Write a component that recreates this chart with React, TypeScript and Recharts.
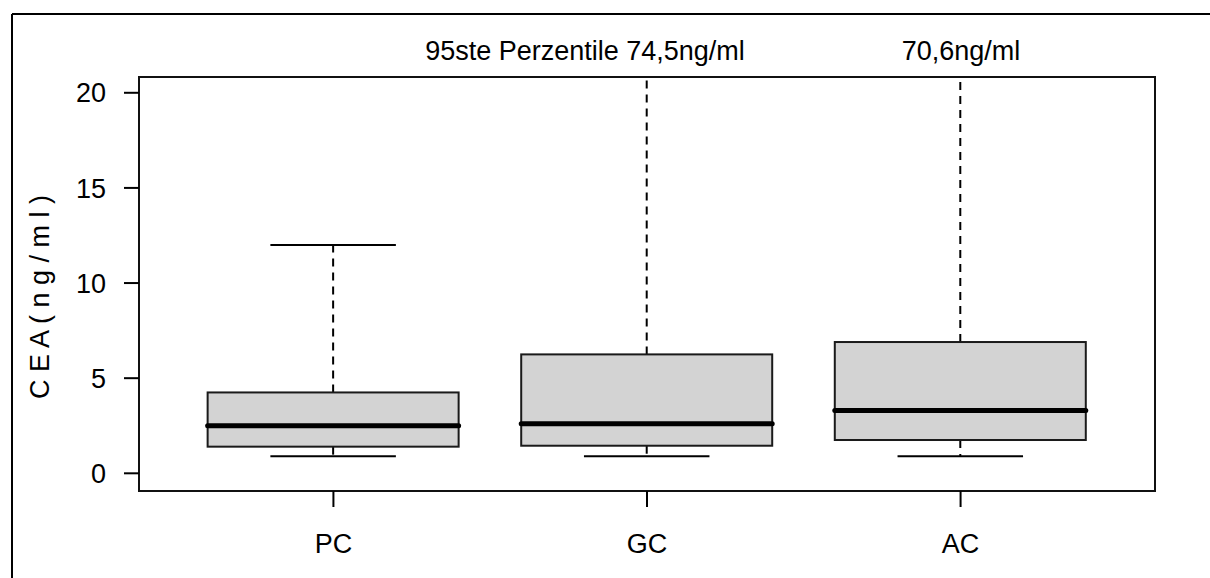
import React from 'react';
import { ComposedChart, Bar, XAxis, YAxis, ReferenceArea } from 'recharts';

const categories = ['PC', 'GC', 'AC'];
const lowerWhisker = [0.9, 0.9, 0.9];
const lowerQuartile = [1.4, 1.45, 1.75];
const medians = [2.5, 2.6, 3.3];
const upperQuartile = [4.25, 6.25, 6.9];
const upperWhisker = [12.0, 74.5, 70.6];
const yTicks = [0, 5, 10, 15, 20];
const topNotes = ['95ste Perzentile 74,5ng/ml', '70,6ng/ml'];

const xDomain: [number, number] = [0.38, 3.62];
const yDomain: [number, number] = [-0.93, 20.83];
const font = '"Liberation Sans", Arial, sans-serif';

const rows = categories.map((name, i) => ({
  pos: i + 1,
  name,
  box: [lowerQuartile[i], upperQuartile[i]],
  low: lowerWhisker[i],
  q1: lowerQuartile[i],
  med: medians[i],
  q3: upperQuartile[i],
  high: upperWhisker[i],
}));

const BoxShape = (props: any) => {
  const { x, y, width, height, payload } = props;
  const topY = Math.min(y, y + height);
  const h = Math.abs(height);
  const perUnit = h / (payload.q3 - payload.q1);
  const py = (v: number) => topY + (payload.q3 - v) * perUnit;
  const cx = x + width / 2;
  const half = width / 4;
  const plotTop = py(yDomain[1]);
  const hiY = Math.max(py(payload.high), plotTop);
  const showHiStaple = payload.high <= yDomain[1];

  return (
    <g>
      {/* whiskers */}
      <line x1={cx} x2={cx} y1={py(payload.q3)} y2={hiY} stroke="#000" strokeWidth={2} strokeDasharray="8 6" />
      <line x1={cx} x2={cx} y1={py(payload.q1)} y2={py(payload.low)} stroke="#000" strokeWidth={2} strokeDasharray="8 6" />
      {showHiStaple && (
        <line x1={cx - half} x2={cx + half} y1={hiY} y2={hiY} stroke="#000" strokeWidth={2} />
      )}
      <line x1={cx - half} x2={cx + half} y1={py(payload.low)} y2={py(payload.low)} stroke="#000" strokeWidth={2} />
      {/* box */}
      <rect x={x} y={topY} width={width} height={h} fill="#d3d3d3" stroke="#1a1a1a" strokeWidth={2} />
      {/* median */}
      <line x1={x} x2={x + width} y1={py(payload.med)} y2={py(payload.med)} stroke="#000" strokeWidth={5} strokeLinecap="round" />
    </g>
  );
};

const App: React.FC = () => {
  return (
    <div
      style={{
        position: 'absolute',
        left: 0,
        top: 0,
        width: 1210,
        height: 578,
        overflow: 'hidden',
        background: '#fff',
        fontFamily: font,
      }}
    >
      <ComposedChart
        width={1210}
        height={578}
        data={rows}
        margin={{ top: 77, right: 55, bottom: 0, left: 0 }}
      >
        <XAxis
          dataKey="pos"
          type="number"
          domain={xDomain}
          allowDataOverflow
          ticks={[1, 2, 3]}
          interval={0}
          tickFormatter={(v: number) => categories[v - 1]}
          height={87}
          tickSize={16}
          tickMargin={27}
          axisLine={false}
          tickLine={{ stroke: '#000', strokeWidth: 2 }}
          tick={{ fontSize: 27, fill: '#000', fontFamily: font }}
        />
        <YAxis
          type="number"
          domain={yDomain}
          allowDataOverflow
          ticks={yTicks}
          interval={0}
          width={139}
          tickSize={15}
          tickMargin={18}
          axisLine={false}
          tickLine={{ stroke: '#000', strokeWidth: 2 }}
          tick={{ fontSize: 27, fill: '#000', fontFamily: font }}
        />
        <Bar dataKey="box" barSize={251} shape={BoxShape} isAnimationActive={false} />
        <ReferenceArea
          x1={xDomain[0]}
          x2={xDomain[1]}
          y1={yDomain[0]}
          y2={yDomain[1]}
          fill="none"
          fillOpacity={0}
          stroke="#111"
          strokeWidth={2}
          ifOverflow="visible"
        />
      </ComposedChart>
      <svg
        width={1210}
        height={578}
        style={{ position: 'absolute', left: 0, top: 0, pointerEvents: 'none' }}
      >
        <line x1={12} y1={14} x2={1210} y2={14} stroke="#000" strokeWidth={2} />
        <line x1={12} y1={14} x2={12} y2={578} stroke="#000" strokeWidth={2} />
        <text x={585} y={60} textAnchor="middle" fontSize={27} fontFamily={font} fill="#000">
          {topNotes[0]}
        </text>
        <text x={961} y={60} textAnchor="middle" fontSize={27} fontFamily={font} fill="#000">
          {topNotes[1]}
        </text>
        <text
          transform="translate(49,297) rotate(-90)"
          textAnchor="middle"
          fontSize={27}
          fontFamily={font}
          fill="#000"
        >
          C E A ( n g / m l )
        </text>
      </svg>
    </div>
  );
};

export default App;
